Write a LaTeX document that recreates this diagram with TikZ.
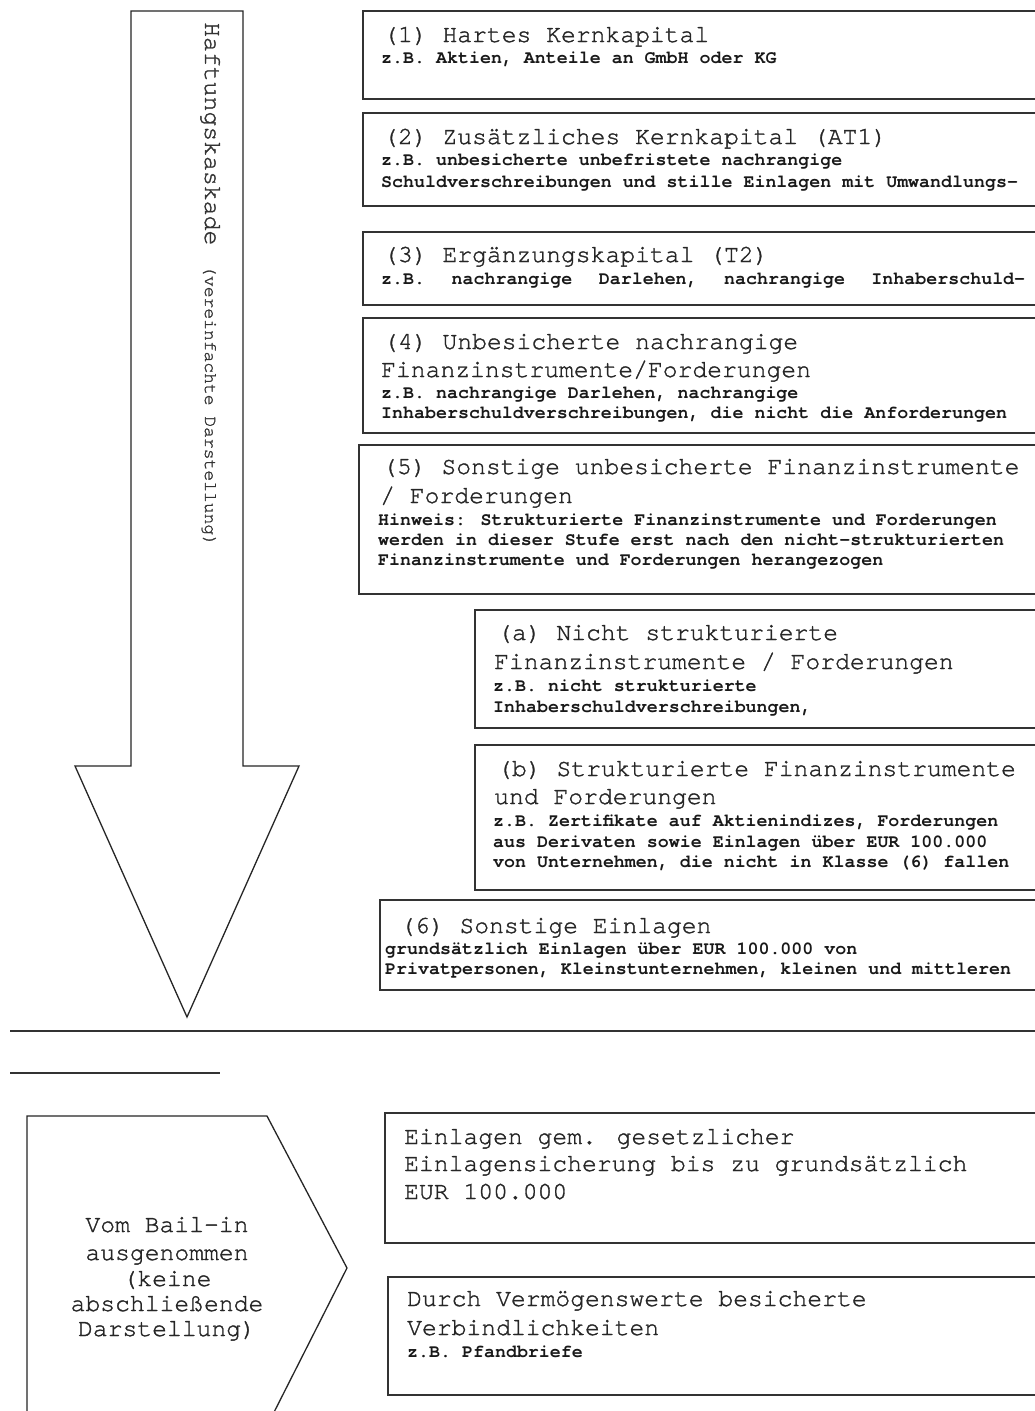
\documentclass[tikz,border=0pt]{standalone}
\usepackage{fontspec}
\newfontfamily\cour{texgyrecursor}[Extension=.otf,UprightFont=*-regular,BoldFont=*-bold,ItalicFont=*-italic,BoldItalicFont=*-bolditalic]
\newfontfamily\courm{texgyrecursor}[Extension=.otf,UprightFont=*-regular,FakeBold=1.3]
\begin{document}
\begin{tikzpicture}[x=1pt,y=-1pt,
  tl/.style={anchor=base west,inner sep=0pt,font=\courm\fontsize{24.7}{29}\selectfont,text=black!85},
  ctl/.style={anchor=base,inner sep=0pt,font=\courm\fontsize{24.7}{29}\selectfont,text=black!85},
  sm/.style={anchor=base west,inner sep=0pt,font=\cour\bfseries\fontsize{18.3}{20}\selectfont,text=black!90},
  frame/.style={draw=black!80,line width=1.4pt},
  outl/.style={draw=black!85,line width=1.3pt,line join=miter},
  rule/.style={draw=black!80,line width=1.6pt}]
\useasboundingbox (0,0) rectangle (1035,1411);
\clip (0,0) rectangle (1035,1411);
\fill[white] (0,0) rectangle (1035,1411);

% big arrow
\draw[outl] (131,11) -- (243,11) -- (243,766) -- (299,766) -- (187,1017)
  -- (75,766) -- (131,766) -- cycle;
\node[rotate=-90,anchor=base west,inner sep=0pt,font=\courm\fontsize{24.8}{29}\selectfont,text=black!80] (hk) at (205,22) {Haftungskaskade};
\node[rotate=-90,anchor=base west,inner sep=0pt,font=\courm\fontsize{18}{20}\selectfont,text=black!80] (vd) at (205,265) {(vereinfachte Darstellung)};

% boxes
\draw[frame] (363,11) rectangle (1045,99);
\node[tl] (t1) at (383,42) {(1) Hartes Kernkapital};
\node[sm] (s1) at (381,63) {z.B. Aktien, Anteile an GmbH oder KG};

\draw[frame] (363,113) rectangle (1045,206);
\node[tl] (t2) at (383,144) {(2) Zusätzliches Kernkapital (AT1)};
\node[sm] (s2a) at (381,165) {z.B. unbesicherte unbefristete nachrangige};
\node[sm] (s2b) at (381,187) {Schuldverschreibungen und stille Einlagen mit Umwandlungs-};

\draw[frame] (363,232) rectangle (1045,305);
\node[tl] (t3) at (383,262) {(3) Ergänzungskapital (T2)};
\node[sm] (s3) at (381,284) {\hbox to 644pt{z.B.\hfil nachrangige\hfil Darlehen,\hfil nachrangige\hfil Inhaberschuld-}};

\draw[frame] (363,318) rectangle (1045,433);
\node[tl] (t4a) at (383,349) {(4) Unbesicherte nachrangige};
\node[tl] (t4b) at (381,377) {Finanzinstrumente/Forderungen};
\node[sm] (s4a) at (381,398) {z.B. nachrangige Darlehen, nachrangige};
\node[sm] (s4b) at (381,418) {Inhaberschuldverschreibungen, die nicht die Anforderungen};

\draw[frame] (359,445) rectangle (1045,594);
\node[tl] (t5a) at (382,474) {(5) Sonstige unbesicherte Finanzinstrumente};
\node[tl] (t5b) at (380,503) {/ Forderungen};
\node[sm] (s5a) at (378,525) {Hinweis: Strukturierte Finanzinstrumente und Forderungen};
\node[sm] (s5b) at (378,545) {werden in dieser Stufe erst nach den nicht-strukturierten};
\node[sm] (s5c) at (378,565) {Finanzinstrumente und Forderungen herangezogen};

\draw[frame] (475,610) rectangle (1045,728);
\node[tl] (tAa) at (497,640) {(a) Nicht strukturierte};
\node[tl] (tAb) at (494,669) {Finanzinstrumente / Forderungen};
\node[sm] (sAa) at (493,691) {z.B. nicht strukturierte};
\node[sm] (sAb) at (493,712) {Inhaberschuldverschreibungen,};

\draw[frame] (475,745) rectangle (1045,890);
\node[tl] (tBa) at (497,776) {(b) Strukturierte Finanzinstrumente};
\node[tl] (tBb) at (494,804) {und Forderungen};
\node[sm] (sBa) at (493,826) {z.B. Zertifikate auf Aktienindizes, Forderungen};
\node[sm] (sBb) at (493,847) {aus Derivaten sowie Einlagen über EUR 100.000};
\node[sm] (sBc) at (493,867) {von Unternehmen, die nicht in Klasse (6) fallen};

\draw[frame] (380,900) rectangle (1045,990);
\node[tl] (t6) at (400,933) {(6) Sonstige Einlagen};
\node[sm] (s6a) at (385,954) {grundsätzlich Einlagen über EUR 100.000 von};
\node[sm] (s6b) at (385,974) {Privatpersonen, Kleinstunternehmen, kleinen und mittleren};

% rules
\draw[rule] (10,1031) -- (1045,1031);
\draw[rule] (10,1073) -- (220,1073);

% pentagon
\draw[outl] (27,1430) -- (27,1116) -- (267,1116) -- (347,1268) -- (265,1430);
\node[ctl] (p1) at (167,1232) {Vom Bail-in};
\node[ctl] (p2) at (167,1260) {ausgenommen};
\node[ctl] (p3) at (167,1286) {(keine};
\node[ctl] (p4) at (167,1311) {abschließende};
\node[ctl] (p5) at (167,1336) {Darstellung)};

% exempt boxes
\draw[frame] (385,1113) rectangle (1045,1243);
\node[tl] (e1a) at (404,1144) {Einlagen gem. gesetzlicher};
\node[tl] (e1b) at (404,1171) {Einlagensicherung bis zu grundsätzlich};
\node[tl] (e1c) at (404,1199) {EUR 100.000};

\draw[frame] (388,1277) rectangle (1045,1395);
\node[tl] (e2a) at (407,1306) {Durch Vermögenswerte besicherte};
\node[tl] (e2b) at (407,1335) {Verbindlichkeiten};
\node[sm] (e2c) at (407,1357) {z.B. Pfandbriefe};
\end{tikzpicture}
\end{document}
